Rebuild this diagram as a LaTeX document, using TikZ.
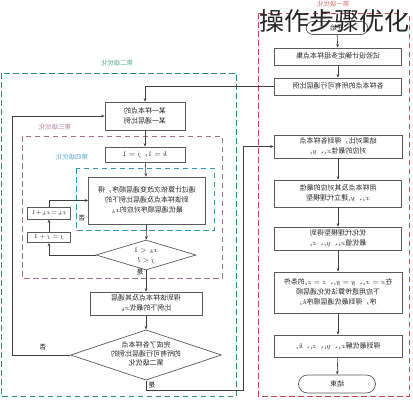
\documentclass[tikz,border=0pt]{standalone}
\usepackage{fontspec}
\setmainfont{Noto Sans CJK SC}
\usepackage{graphicx}
\usetikzlibrary{arrows.meta,shapes.geometric}
\newcommand\mt[1]{\reflectbox{\begin{tabular}{@{}c@{}}#1\end{tabular}}}
\definecolor{boxgray}{RGB}{90,90,90}
\definecolor{lgreen}{RGB}{40,140,110}
\definecolor{lgreenT}{RGB}{90,175,150}
\definecolor{lred}{RGB}{200,70,70}
\definecolor{lredT}{RGB}{215,120,120}
\definecolor{lpurple}{RGB}{165,110,145}
\definecolor{lpurpleT}{RGB}{185,130,165}
\definecolor{lblue}{RGB}{50,150,190}
\definecolor{lblueT}{RGB}{100,175,215}
\tikzset{
  bx/.style={draw=boxgray, line width=0.7pt, fill=white, inner sep=1pt,
    font=\fontsize{7}{10}\selectfont, text=black!85},
  rbx/.style={bx, rounded corners=7pt},
  dm/.style={bx, diamond, aspect=3, inner sep=0pt},
  arr/.style={draw=black!75, line width=0.6pt, -{Stealth[length=3.5pt,width=2.8pt]}},
  lab/.style={font=\fontsize{6.5}{8}\selectfont, inner sep=0pt},
  frame/.style={line width=1pt, dash pattern=on 5.5pt off 3.5pt},
}
\begin{document}
\begin{tikzpicture}[x=1pt,y=-1pt]
\useasboundingbox (0,0) rectangle (413,400);
% dashed frames
\draw[frame, lgreen] (1.5,73) rectangle (236,396);
\draw[frame, lred, line width=0.9pt] (258,13) rectangle (409,396);
\draw[frame, lpurple, line width=0.8pt] (22,136) rectangle (222,278);
\draw[frame, lblue, line width=0.8pt] (76,168) rectangle (214,230);
% frame labels
\node[lab, text=lredT] (l1) at (333,5) {\mt{第一级优化}};
\node[lab, text=lgreenT] (l2) at (117,64) {\mt{第二级优化}};
\node[lab, text=lpurpleT] (l3) at (55,128) {\mt{第三级优化}};
\node[lab, text=lblueT] (l4) at (72,158) {\mt{第四级优化}};
% right column
\node[rbx, minimum width=62pt, minimum height=13pt] (s) at (337,28) {\mt{开始}};
\node[bx, minimum width=127pt, minimum height=17pt] (b1) at (338,56.5) {\mt{试验设计确定多组样本点集}};
\node[bx, minimum width=127pt, minimum height=17pt] (b2) at (338,86.5) {\mt{各样本点的所有可行通层比例}};
\node[bx, minimum width=128pt, minimum height=23pt] (b3) at (338,146.5) {\mt{结果对比，得到各样本点\\对应的最佳$x_i$、$y_i$}};
\node[bx, minimum width=127pt, minimum height=27pt] (b4) at (338,193.5) {\mt{用样本点及其对应的最佳\\$x_i$、$y_i$建立代理模型}};
\node[bx, minimum width=127pt, minimum height=23pt] (b5) at (338,238.5) {\mt{优化代理模型得到\\最优值$x_i$、$y_i$、$z_i$}};
\node[bx, minimum width=128pt, minimum height=41pt] (b6) at (338,292.5) {\mt{在$x=x_i$、$y=y_i$、$z=z_i$的条件\\下应用遗传算法优化通层顺\\序，得到最优通层顺序$k_i$}};
\node[bx, minimum width=128pt, minimum height=22pt] (b7) at (338,346) {\mt{得到最优解$x_i$、$y_i$、$z_i$、$k_i$}};
\node[rbx, rounded corners=9pt, minimum width=77pt, minimum height=18pt] (e) at (337,384) {\mt{结束}};
\draw[arr] (s) -- (b1);
\draw[arr] (b1) -- (b2);
\draw[arr] (b3) -- (b4);
\draw[arr] (b4) -- (b5);
\draw[arr] (b5) -- (b6);
\draw[arr] (b6) -- (b7);
\draw[arr] (b7) -- (e);
% left column
\node[bx, minimum width=80pt, minimum height=28pt] (A) at (145,116) {\mt{某一样本点的\\某一通层比例}};
\node[bx, minimum width=80pt, minimum height=15pt] (B) at (145,154.5) {\mt{$k=1$，$j=1$}};
\node[bx, minimum width=117pt, minimum height=47pt] (C) at (147,200.5) {\mt{通过计算依次改变通层顺序，得\\到该样本点及通层比例下的\\最优通层顺序对应的$x_k$}};
\node[bx, minimum width=43pt, minimum height=12pt, font=\fontsize{6}{7}\selectfont] (K) at (49,213) {\mt{$x_k\!=\!x_k\!+\!1$}};
\node[bx, minimum width=43pt, minimum height=10pt, font=\fontsize{6}{7}\selectfont] (J) at (49,237.5) {\mt{$j=j+1$}};
\node[dm, minimum width=100pt, minimum height=30pt] (D1) at (146,255) {\mt{$x_k<1$\\$j<l$}};
\node[bx, minimum width=112pt, minimum height=23pt] (D) at (146,303.5) {\mt{得到该样本点及其通层\\比例下的最优$x_k$}};
\node[dm, minimum width=132pt, minimum height=46pt, font=\fontsize{7}{9}\selectfont] (D2) at (146,355) {\mt{完成了各样本点\\的所有可行通层比例的\\第二级优化}};
\coordinate (lf) at (12,355);
\coordinate (c1) at (146,390);
\coordinate (c2) at (243,390);
\draw[arr] (b2.west) -| (A.north);
\draw[arr] (A) -- (B);
\draw[arr] (B) -- (C);
\draw[arr] (C) -- (D1);
\draw[arr] (D1.west) -| (J.south);
\draw[arr] (J) -- (K);
\draw[arr] (K.north) |- (C.west);
\draw[arr] (D1) -- (D);
\draw[arr] (D) -- (D2);
\draw[arr] (D2.west) -- (lf) |- (A.west);
\draw[arr] (D2.south) -- (c1) -- (c2) |- (b3.west);
% yes/no labels
\node[lab] (n1) at (82,219) {\mt{否}};
\node[lab] (y1) at (140,273) {\mt{是}};
\node[lab] (n2) at (43,348) {\mt{否}};
\node[lab] (y2) at (152,386) {\mt{是}};
% overlay title
\node[font=\fontsize{25}{28}\selectfont, inner sep=0pt, text=black!85] (title) at (334,21) {操作步骤优化};
\end{tikzpicture}
\end{document}
